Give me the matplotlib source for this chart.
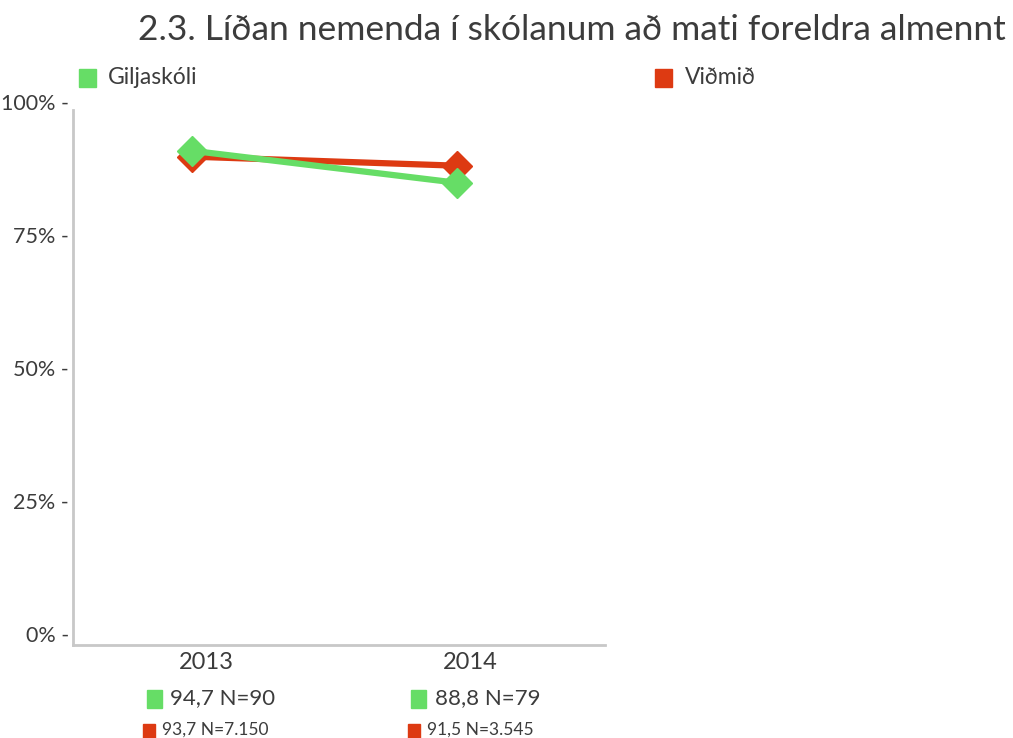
import matplotlib.pyplot as plt
from matplotlib.patches import Rectangle
from matplotlib.transforms import ScaledTranslation

plt.rcParams['font.family'] = ['Lato', 'DejaVu Sans']

ar = ['2013', '2014']
# hlutfall (%) sem teiknad er a linurit
giljaskoli = [90.8, 84.8]
vidmid = [89.7, 88.0]
# medaltal og fjoldi svara undir hverju ari
gilja_medal = ['94,7', '88,8']
gilja_n = ['90', '79']
vidmid_medal = ['93,7', '91,5']
vidmid_n = ['7.150', '3.545']
yticks = [0, 25, 50, 75, 100]

green = '#66dd66'
red = '#dd3a12'
txt = '#3c3c3c'

W, H = 1013, 738
fig = plt.figure(figsize=(W / 100, H / 100), dpi=100)
ax = fig.add_axes([0.072, 0.126, 0.525, 0.736])

x = list(range(len(ar)))
ax.plot(x, vidmid, color=red, lw=4.5, marker='D', ms=15, zorder=3)
ax.plot(x, giljaskoli, color=green, lw=4.5, marker='D', ms=15, zorder=4)

ax.set_xlim(-0.45, 1.56)
ax.set_ylim(-2.1, 100)
ax.set_xticks(x)
ax.set_xticklabels(ar, fontsize=17, color=txt)
ax.set_yticks(yticks)
ax.set_yticklabels(['%d%% -' % v for v in yticks], fontsize=15.5, color=txt)
ax.tick_params(length=0, pad=3)
ax.tick_params(axis='x', pad=5)
# artolin standa adeins til haegri vid punktana
for lbl in ax.get_xticklabels():
    lbl.set_transform(lbl.get_transform() + ScaledTranslation(0.14, 0, fig.dpi_scale_trans))

for s in ['top', 'right']:
    ax.spines[s].set_visible(False)
for s in ['left', 'bottom']:
    ax.spines[s].set_color('#c8c8c8')
    ax.spines[s].set_linewidth(2)
ax.spines['left'].set_bounds(-2.1, 98.5)

fig.text(0.993, 0.959, '2.3. Líðan nemenda í skólanum að mati foreldra almennt',
         ha='right', va='center', fontsize=25.5, color=txt)


def square(px, py, w, h, color):
    # px, py: midja i pixlum fra vinstri/efri brun
    fig.patches.append(Rectangle(((px - w / 2) / W, 1 - (py + h / 2) / H), w / W, h / H,
                                 color=color, transform=fig.transFigure, figure=fig))


# skyringar efst
square(87.5, 78, 17, 18, green)
fig.text(108 / W, 1 - 78 / H, 'Giljaskóli', fontsize=16.5, color=txt, va='center')
square(663, 78, 17, 18, red)
fig.text(685 / W, 1 - 78 / H, 'Viðmið', fontsize=16.5, color=txt, va='center')

# medaltol undir arum
for i in range(len(ar)):
    px = ax.transData.transform((i, 0))[0]
    square(px - 38, 699, 15, 18, green)
    fig.text((px - 22) / W, 1 - 698 / H, '%s N=%s' % (gilja_medal[i], gilja_n[i]),
             fontsize=16, color=txt, va='center')
    square(px - 43, 731, 12, 15, red)
    fig.text((px - 30) / W, 1 - 730 / H, '%s N=%s' % (vidmid_medal[i], vidmid_n[i]),
             fontsize=12.5, color=txt, va='center')

fig.savefig('out.png', dpi=100)
